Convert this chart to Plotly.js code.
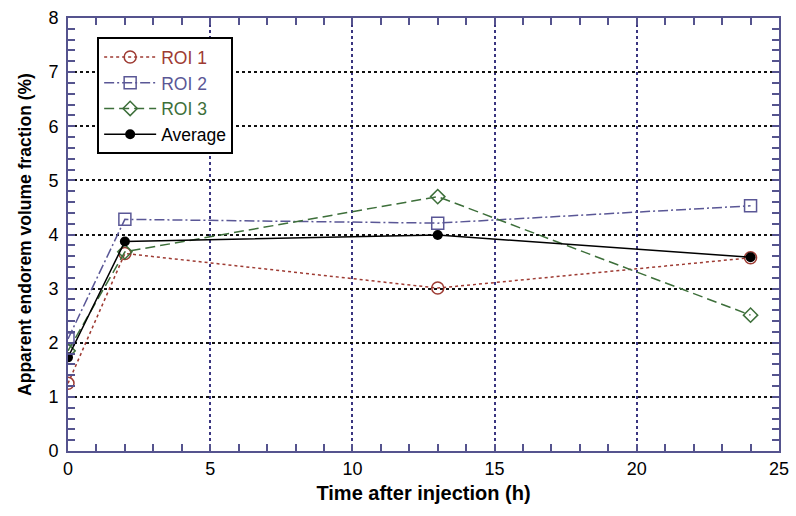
<!DOCTYPE html>
<html>
<head>
<meta charset="utf-8">
<script src="https://cdn.plot.ly/plotly-3.0.1.min.js"></script>
<style>html,body{margin:0;padding:0;background:#fff;}#chart{width:796px;height:516px;}</style>
</head>
<body>
<div id="chart"></div>
<script>
const timeH = [0, 2, 13, 24];
const roi1 = [1.25, 3.65, 3.01, 3.57];
const roi2 = [2.07, 4.28, 4.21, 4.53];
const roi3 = [1.85, 3.68, 4.70, 2.51];
const average = [1.73, 3.87, 3.99, 3.58];
const seriesNames = ["ROI 1", "ROI 2", "ROI 3", "Average"];
const xTicks = [0, 5, 10, 15, 20, 25];
const yTicks = [0, 1, 2, 3, 4, 5, 6, 7, 8];

const cRoi1 = "#9e3b33", cRoi2 = "#5a5796", cRoi3 = "#3d6f3a", cAvg = "#000000";
const axisCol = "#55538e";
const colored = (t, c) => '<span style="color:' + c + '">' + t + '</span>';

const traces = [
  {x: timeH, y: roi1, name: colored(seriesNames[0], cRoi1), mode: "lines+markers",
   line: {color: cRoi1, width: 1.5, dash: "3px,3px"},
   marker: {symbol: "circle-open", size: 12, color: cRoi1, line: {width: 1.5, color: cRoi1}}},
  {x: timeH, y: roi2, name: colored(seriesNames[1], cRoi2), mode: "lines+markers",
   line: {color: cRoi2, width: 1.5, dash: "10px,3px,2px,3px"},
   marker: {symbol: "square-open", size: 12, color: cRoi2, line: {width: 1.5, color: cRoi2}}},
  {x: timeH, y: roi3, name: colored(seriesNames[2], cRoi3), mode: "lines+markers",
   line: {color: cRoi3, width: 1.5, dash: "10px,5px"},
   marker: {symbol: "diamond-open", size: 11, color: cRoi3, line: {width: 1.5, color: cRoi3}}},
  {x: timeH, y: average, name: seriesNames[3], mode: "lines+markers",
   line: {color: cAvg, width: 1.5},
   marker: {symbol: "circle", size: 10, color: cAvg}}
];

const layout = {
  width: 796, height: 516,
  margin: {l: 68, r: 17, t: 18, b: 65},
  paper_bgcolor: "#fff", plot_bgcolor: "#fff",
  font: {family: "Liberation Sans, Arial, sans-serif", size: 18, color: "#000"},
  showlegend: true,
  legend: {
    x: 0.041, y: 0.956, xanchor: "left", yanchor: "top",
    bgcolor: "#fff", bordercolor: "#000", borderwidth: 2,
    font: {size: 17.5},
    itemwidth: 52,
    tracegroupgap: 0
  },
  xaxis: {
    range: [0, 25], tickvals: xTicks, ticktext: xTicks.map(String),
    showline: true, linecolor: axisCol, linewidth: 2, mirror: "allticks",
    ticks: "inside", ticklen: 7, tickwidth: 2, tickcolor: axisCol,
    showgrid: true, gridcolor: "#3a3580", gridwidth: 2, griddash: "dot",
    minor: {dtick: 1, ticks: "inside", ticklen: 7, tickwidth: 2, tickcolor: axisCol, showgrid: false},
    zeroline: false,
    title: {text: "Time after injection (h)", font: {size: 20, family: "Liberation Sans, Arial, sans-serif", weight: "bold"}, standoff: 8},
    tickfont: {size: 18}
  },
  yaxis: {
    range: [0, 8], tickvals: yTicks, ticktext: yTicks.map(String),
    showline: true, linecolor: axisCol, linewidth: 2, mirror: "allticks",
    ticks: "inside", ticklen: 7, tickwidth: 2, tickcolor: axisCol,
    showgrid: true, gridcolor: "#111", gridwidth: 2, griddash: "dot",
    minor: {dtick: 0.2, ticks: "inside", ticklen: 7, tickwidth: 2, tickcolor: axisCol, showgrid: false},
    zeroline: false,
    ticklabelstandoff: 4,
    title: {text: "Apparent endorem volume fraction (%)", font: {size: 17.5, family: "Liberation Sans, Arial, sans-serif", weight: "bold"}, standoff: 12},
    tickfont: {size: 18}
  }
};

Plotly.newPlot("chart", traces, layout, {displayModeBar: false, staticPlot: true});
</script>
</body>
</html>
